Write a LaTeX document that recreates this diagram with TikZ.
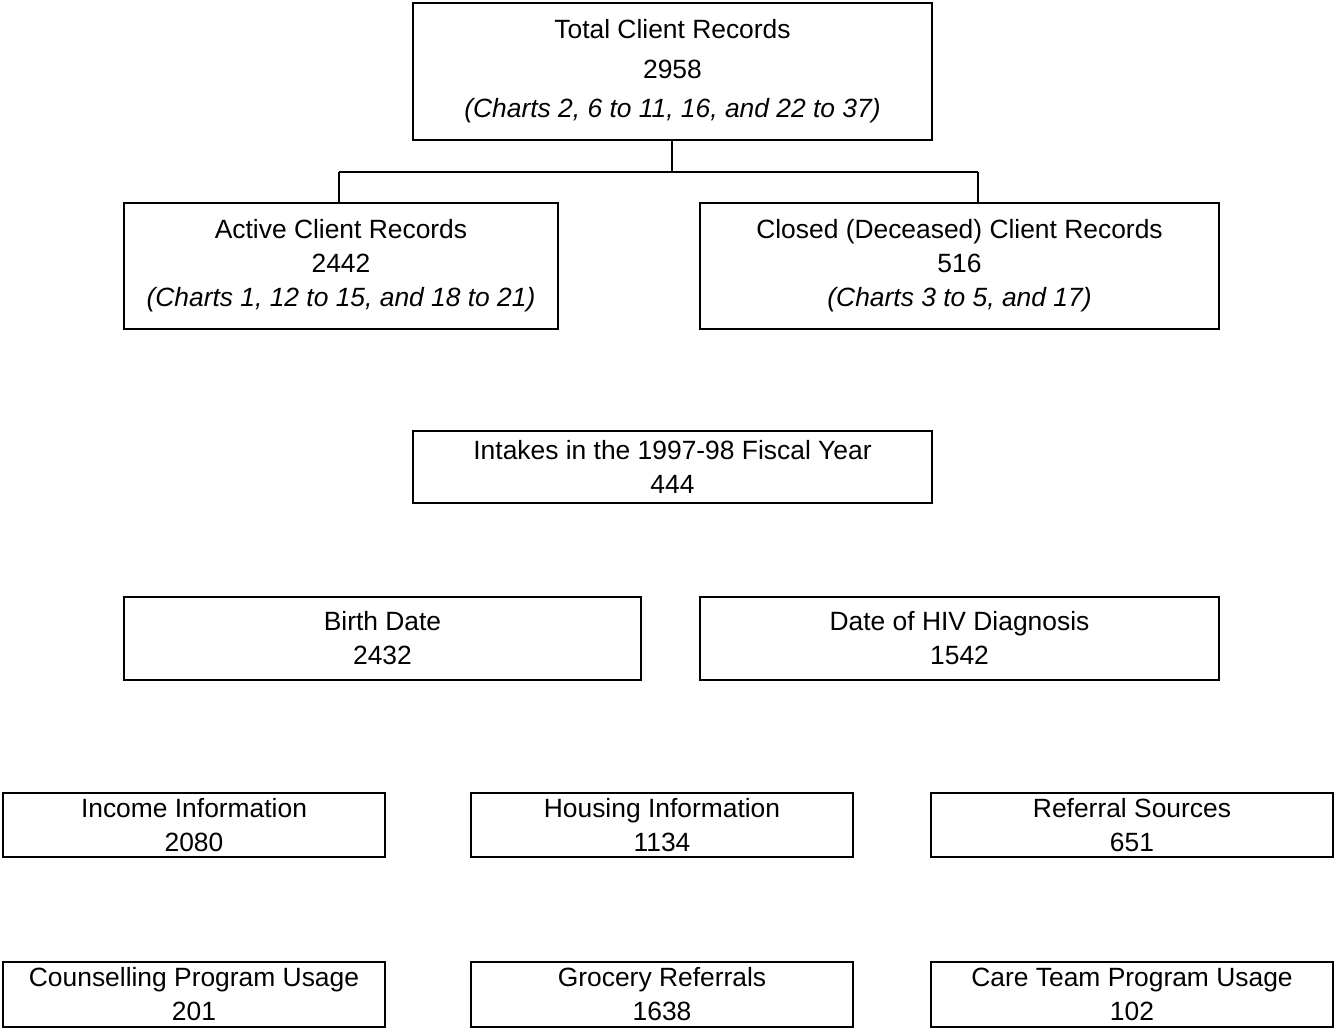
\documentclass[tikz,border=0pt]{standalone}
\usepackage{fontspec}
\setmainfont{Liberation Sans}
\begin{document}
\begin{tikzpicture}[x=1pt,y=-1pt,
  box/.style={draw=black,line width=1.8pt,inner sep=0pt,align=center,
    font=\fontsize{26.4}{34}\selectfont},
  conn/.style={draw=black,line width=1.8pt}]
\useasboundingbox (0,0) rectangle (1335,1030);
\node[box,minimum width=519pt,minimum height=137pt,font=\fontsize{26.4}{39.5}\selectfont] (top) at (672.5,71.5)
  {Total Client Records\\2958\\\textit{(Charts 2, 6 to 11, 16, and 22 to 37)}};
\node[box,minimum width=434pt,minimum height=126pt] (active) at (341,266)
  {Active Client Records\\2442\\\textit{(Charts 1, 12 to 15, and 18 to 21)}};
\node[box,minimum width=519pt,minimum height=126pt] (closed) at (959.5,266)
  {Closed (Deceased) Client Records\\516\\\textit{(Charts 3 to 5, and 17)}};
\node[box,minimum width=519pt,minimum height=72pt] (intakes) at (672.5,467)
  {Intakes in the 1997-98 Fiscal Year\\444};
\node[box,minimum width=517pt,minimum height=83pt] (birth) at (382.5,638.5)
  {Birth Date\\2432};
\node[box,minimum width=519pt,minimum height=83pt] (hiv) at (959.5,638.5)
  {Date of HIV Diagnosis\\1542};
\node[box,minimum width=382pt,minimum height=64pt] (income) at (194,825)
  {Income Information\\2080};
\node[box,minimum width=382pt,minimum height=64pt] (housing) at (662,825)
  {Housing Information\\1134};
\node[box,minimum width=402pt,minimum height=64pt] (referral) at (1132,825)
  {Referral Sources\\651};
\node[box,minimum width=382pt,minimum height=65pt] (counsel) at (194,994.5)
  {Counselling Program Usage\\201};
\node[box,minimum width=382pt,minimum height=65pt] (grocery) at (662,994.5)
  {Grocery Referrals\\1638};
\node[box,minimum width=402pt,minimum height=65pt] (care) at (1132,994.5)
  {Care Team Program Usage\\102};
\coordinate (j) at (672,172);
\coordinate (ja) at (339,172);
\coordinate (jc) at (978,172);
\draw[conn] (j |- top.south) -- (j);
\draw[conn] (ja) -- (jc);
\draw[conn] (ja) -- (ja |- active.north);
\draw[conn] (jc) -- (jc |- closed.north);
\end{tikzpicture}
\end{document}
